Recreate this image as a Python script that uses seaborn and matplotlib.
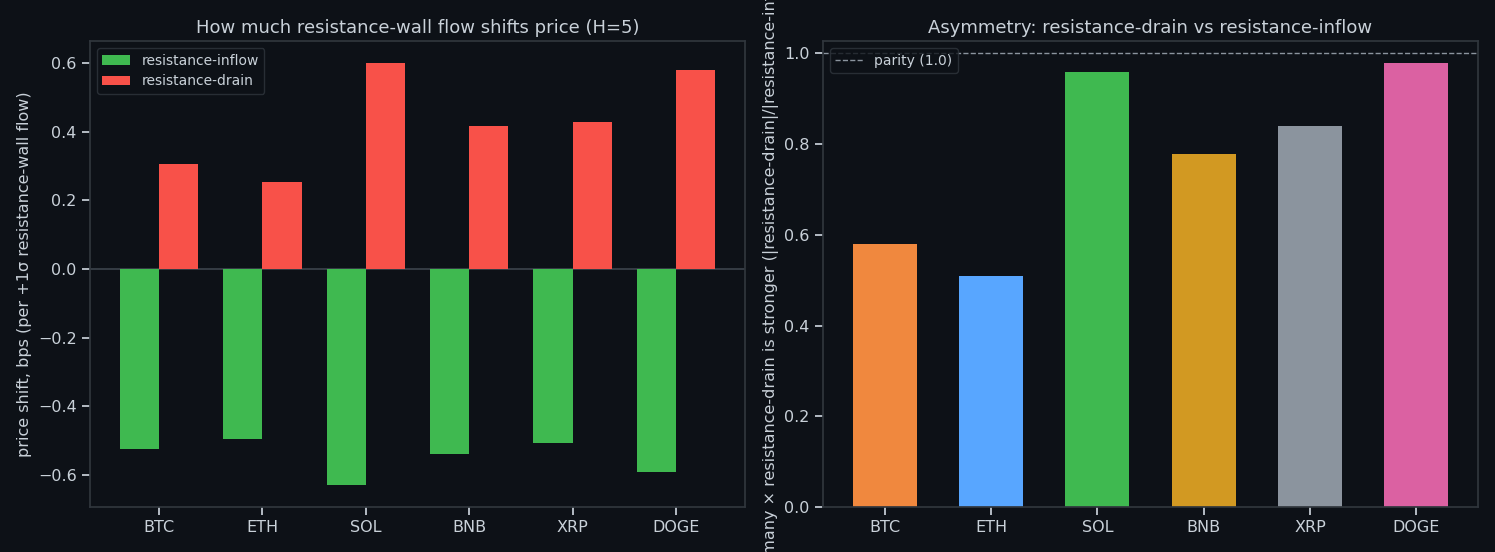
import pandas as pd
import numpy as np
import matplotlib
matplotlib.use("Agg")
import matplotlib.pyplot as plt
import seaborn as sns

# données
assets = ["BTC", "ETH", "SOL", "BNB", "XRP", "DOGE"]
inflow = [-0.525, -0.497, -0.630, -0.538, -0.508, -0.593]
drain = [0.305, 0.255, 0.602, 0.418, 0.430, 0.580]
ratio = [0.579, 0.509, 0.958, 0.778, 0.839, 0.978]
asset_colors = ["#f0883e", "#58a6ff", "#3fb950", "#d29922", "#8b949e", "#db61a2"]

BG = "#0d1117"
FG = "#c9d1d9"
GRID = "#30363d"

sns.set_theme(style="dark", rc={
    "figure.facecolor": BG, "axes.facecolor": BG, "axes.edgecolor": GRID,
    "axes.labelcolor": FG, "text.color": FG, "xtick.color": FG, "ytick.color": FG,
    "xtick.bottom": True, "ytick.left": True,
})
plt.rcParams['font.family'] = ['DejaVu Sans']

df = pd.DataFrame({
    "asset": assets * 2,
    "shift": inflow + drain,
    "kind": ["resistance-inflow"] * 6 + ["resistance-drain"] * 6,
})

fig, (ax1, ax2) = plt.subplots(1, 2, figsize=(14.95, 5.52), dpi=100)
fig.subplots_adjust(left=0.0602, right=0.9886, bottom=0.0815, top=0.9257, wspace=0.119)

sns.barplot(data=df, x="asset", y="shift", hue="kind", width=0.76,
            palette={"resistance-inflow": "#3fb950", "resistance-drain": "#f85149"},
            saturation=1, linewidth=0, edgecolor="none", ax=ax1)
ax1.axhline(0, color="#3d444d", lw=1.2, zorder=0)
ax1.set_xlim(-0.668, 5.668)
ax1.set_ylim(-0.694, 0.665)
ax1.set_title("How much resistance-wall flow shifts price (H=5)", fontsize=13, color=FG)
ax1.set_xlabel("")
ax1.set_ylabel("price shift, bps (per +1σ resistance-wall flow)", fontsize=11.5)
ax1.tick_params(labelsize=11.5, color=FG)
ax1.legend(loc="upper left", facecolor=BG, edgecolor=GRID, labelcolor=FG, fontsize=10)

df2 = pd.DataFrame({"asset": assets, "ratio": ratio})
sns.barplot(data=df2, x="asset", y="ratio", hue="asset", palette=asset_colors,
            width=0.6, saturation=1, legend=False, linewidth=0, edgecolor="none", ax=ax2)
ax2.axhline(1.0, color="#8b949e", ls="--", lw=1, label="parity (1.0)")
ax2.set_xlim(-0.58, 5.58)
ax2.set_ylim(0, 1.027)
ax2.set_title("Asymmetry: resistance-drain vs resistance-inflow", fontsize=13, color=FG)
ax2.set_xlabel("")
ax2.set_ylabel("how many × resistance-drain is stronger (|resistance-drain|/|resistance-inflow|)", fontsize=11.5)
ax2.tick_params(labelsize=11.5, color=FG)
ax2.legend(loc="upper left", facecolor=BG, edgecolor=GRID, labelcolor=FG, fontsize=10)

for ax in (ax1, ax2):
    for s in ax.spines.values():
        s.set_color(GRID)

fig.savefig("out.png", facecolor=BG)
